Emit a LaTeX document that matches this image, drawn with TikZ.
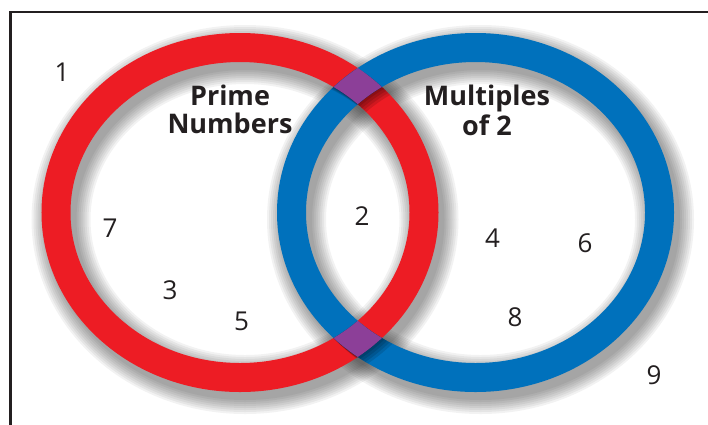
\documentclass[tikz,border=0pt]{standalone}
\usepackage{fontspec}
\setmainfont{Open Sans}
\definecolor{vred}{HTML}{ED1C24}
\definecolor{vblue}{HTML}{0071BC}
\definecolor{vpurple}{HTML}{8C3F98}
\definecolor{inkc}{HTML}{231F20}
\begin{document}
\begin{tikzpicture}[x=1pt,y=-1pt,
  num/.style={font=\fontsize{26}{26}\selectfont, text=inkc, inner sep=0pt},
  head/.style={font=\fontsize{27}{29}\selectfont\bfseries, text=inkc, anchor=base, inner sep=0pt},
  ring/.style={line width=29pt},
  rshadow/.style={black, opacity=0.05}]
\useasboundingbox (0,0) rectangle (708,424);
\clip (0,0) rectangle (708,424);
\fill[white] (0,0) rectangle (708,424);
\draw[inkc, line width=2.3pt] (10.5,11.8) rectangle (720,440);

% soft drop shadows of the rings
\foreach \w in {59,55,51,47,43,39,35,31} {
  \draw[rshadow, line width=\w pt] (245,219.5) ellipse [x radius=184, y radius=165];
  \draw[rshadow, line width=\w pt] (480.5,219.5) ellipse [x radius=184, y radius=165];
}

% rings
\draw[vred, ring] (240,212.5) ellipse [x radius=184, y radius=165];
\draw[vblue, ring] (475.5,212.5) ellipse [x radius=184, y radius=165];

% interlace shading: blue over red at top, red over blue at bottom
\begin{scope}[even odd rule]
  \clip (240,212.5) ellipse [x radius=198.5, y radius=179.5]
        (240,212.5) ellipse [x radius=169.5, y radius=150.5];
  \foreach \s in {2,4,6,8}
    \draw[black, opacity=0.12, ring] (475.5+\s,212.5+\s) ellipse [x radius=184, y radius=165];
\end{scope}
\begin{scope}[even odd rule]
  \clip (475.5,212.5) ellipse [x radius=198.5, y radius=179.5]
        (475.5,212.5) ellipse [x radius=169.5, y radius=150.5];
  \foreach \s in {2,4,6,8}
    \draw[black, opacity=0.12, ring] (240+\s,212.5+\s) ellipse [x radius=184, y radius=165];
  \clip (240,212.5) ellipse [x radius=198.5, y radius=179.5]
        (240,212.5) ellipse [x radius=169.5, y radius=150.5];
  \draw[vpurple, ring] (475.5,212.5) ellipse [x radius=184, y radius=165];
\end{scope}

% headings
\node[head] (prime) at (230,105) {Prime};
\node[head] (numbers) at (230,133) {Numbers};
\node[head] (multiples) at (487,105) {Multiples};
\node[head] (of2) at (487,135) {of 2};

% numbers
\node[num] (n1) at (62,72) {1};
\node[num] (n7) at (110,228) {7};
\node[num] (n3) at (170,290) {3};
\node[num] (n5) at (241.5,321.5) {5};
\node[num] (n2) at (362,216) {2};
\node[num] (n4) at (492.5,238) {4};
\node[num] (n6) at (585,243) {6};
\node[num] (n8) at (515,317.5) {8};
\node[num] (n9) at (654,375) {9};
\end{tikzpicture}
\end{document}
